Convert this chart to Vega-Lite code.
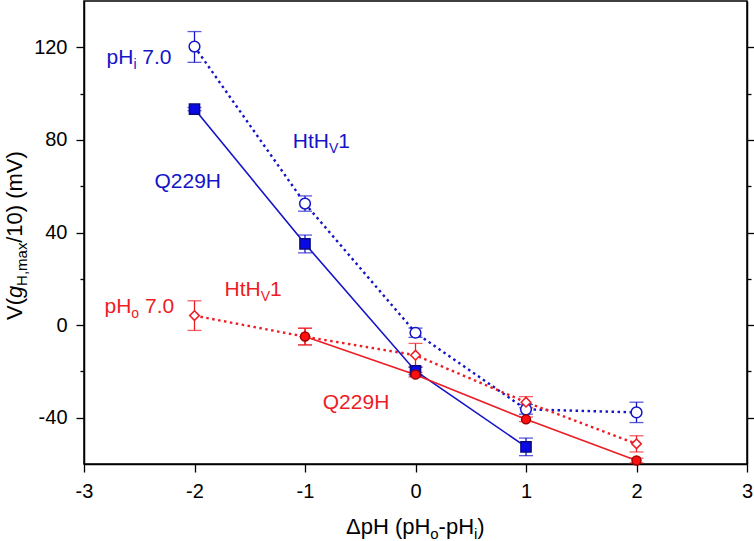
{
  "$schema": "https://vega.github.io/schema/vega-lite/v6.json",
  "width": 663,
  "height": 463,
  "autosize": {"type": "none"},
  "padding": {"left": 84, "top": 1, "right": 7, "bottom": 77},
  "background": "white",
  "config": {
    "view": {"stroke": "black", "strokeWidth": 1.5},
    "font": "Liberation Sans",
    "axis": {"grid": false, "title": null, "domainColor": "black", "domainWidth": 1.5, "tickColor": "black", "tickWidth": 1.3, "labelColor": "black", "labelFont": "Liberation Sans", "labelFontSize": 20}
  },
  "datasets": {
    "pts": [
      {"series": "HtHV1 pHi", "cond": "pHi 7.0", "x": -2, "v": 120.3, "lo": 113.5, "hi": 126.8},
      {"series": "HtHV1 pHi", "cond": "pHi 7.0", "x": -1, "v": 52.5, "lo": 49.2, "hi": 55.8},
      {"series": "HtHV1 pHi", "cond": "pHi 7.0", "x": 0, "v": -3.3, "lo": -5.3, "hi": -1.3},
      {"series": "HtHV1 pHi", "cond": "pHi 7.0", "x": 1, "v": -36.4, "lo": -38.5, "hi": -34.3},
      {"series": "HtHV1 pHi", "cond": "pHi 7.0", "x": 2, "v": -37.7, "lo": -42.1, "hi": -33.3},
      {"series": "Q229H pHi", "cond": "pHi 7.0", "x": -2, "v": 93.3, "lo": 92.6, "hi": 94.0},
      {"series": "Q229H pHi", "cond": "pHi 7.0", "x": -1, "v": 35.1, "lo": 31.2, "hi": 38.9},
      {"series": "Q229H pHi", "cond": "pHi 7.0", "x": 0, "v": -19.8, "lo": -21.4, "hi": -18.2},
      {"series": "Q229H pHi", "cond": "pHi 7.0", "x": 1, "v": -52.6, "lo": -56.4, "hi": -48.8},
      {"series": "HtHV1 pHo", "cond": "pHo 7.0", "x": -2, "v": 4.1, "lo": -2.3, "hi": 10.5},
      {"series": "HtHV1 pHo", "cond": "pHo 7.0", "x": -1, "v": -5.0, "lo": -8.6, "hi": -1.4},
      {"series": "HtHV1 pHo", "cond": "pHo 7.0", "x": 0, "v": -13.0, "lo": -18.1, "hi": -7.9},
      {"series": "HtHV1 pHo", "cond": "pHo 7.0", "x": 1, "v": -33.3, "lo": -35.7, "hi": -30.9},
      {"series": "HtHV1 pHo", "cond": "pHo 7.0", "x": 2, "v": -51.3, "lo": -54.8, "hi": -47.8},
      {"series": "Q229H pHo", "cond": "pHo 7.0", "x": -1, "v": -4.9, "lo": -8.5, "hi": -1.3},
      {"series": "Q229H pHo", "cond": "pHo 7.0", "x": 0, "v": -21.4, "lo": -22.4, "hi": -20.4},
      {"series": "Q229H pHo", "cond": "pHo 7.0", "x": 1, "v": -40.7, "lo": -41.7, "hi": -39.7},
      {"series": "Q229H pHo", "cond": "pHo 7.0", "x": 2, "v": -58.5, "lo": -59.5, "hi": -57.5}
    ],
    "ann": [
      {"t": "pH", "x": -2.796, "y": 112.6, "cond": "pHi 7.0", "role": "main"},
      {"t": "i", "x": -2.553, "y": 112.6, "cond": "pHi 7.0", "role": "sub"},
      {"t": "7.0", "x": -2.472, "y": 112.6, "cond": "pHi 7.0", "role": "main"},
      {"t": "HtH", "x": -1.110, "y": 76.4, "cond": "pHi 7.0", "role": "main"},
      {"t": "V", "x": -0.7827, "y": 76.4, "cond": "pHi 7.0", "role": "sub"},
      {"t": "1", "x": -0.6982, "y": 76.4, "cond": "pHi 7.0", "role": "main"},
      {"t": "Q229H", "x": -2.362, "y": 59.3, "cond": "pHi 7.0", "role": "main"},
      {"t": "HtH", "x": -1.7285, "y": 12.6, "cond": "pHo 7.0", "role": "main"},
      {"t": "V", "x": -1.4012, "y": 12.6, "cond": "pHo 7.0", "role": "sub"},
      {"t": "1", "x": -1.3167, "y": 12.6, "cond": "pHo 7.0", "role": "main"},
      {"t": "pH", "x": -2.8145, "y": 5.2, "cond": "pHo 7.0", "role": "main"},
      {"t": "o", "x": -2.5716, "y": 5.2, "cond": "pHo 7.0", "role": "sub"},
      {"t": "7.0", "x": -2.4484, "y": 5.2, "cond": "pHo 7.0", "role": "main"},
      {"t": "Q229H", "x": -0.839, "y": -36.4, "cond": "pHo 7.0", "role": "main"}
    ],
    "ttl": [
      {"t": "ΔpH (pH", "x": -0.6290, "y": -90.2, "role": "xmain"},
      {"t": "o", "x": 0.1339, "y": -90.2, "role": "xsub"},
      {"t": "-pH", "x": 0.2090, "y": -90.2, "role": "xmain"},
      {"t": "i", "x": 0.5294, "y": -90.2, "role": "xsub"},
      {"t": ")", "x": 0.5593, "y": -90.2, "role": "xmain"},
      {"t": "V(", "x": -3.5656, "y": 2.24, "role": "ymain"},
      {"t": "g", "x": -3.5656, "y": 11.69, "role": "yital"},
      {"t": "H,max", "x": -3.5656, "y": 16.94, "role": "ysub"},
      {"t": "/10) (mV)", "x": -3.5656, "y": 35.55, "role": "ymain"}
    ]
  },
  "layer": [
    {
      "data": {"name": "pts"},
      "transform": [{"filter": {"field": "series", "oneOf": ["HtHV1 pHi", "HtHV1 pHo"]}}],
      "mark": {"type": "line", "strokeDash": [2.5, 3.5], "strokeWidth": 2.4},
      "encoding": {
        "x": {"field": "x", "type": "quantitative", "scale": {"domain": [-3, 3], "nice": false, "zero": false},
          "axis": {"orient": "bottom", "values": [-3, -2, -1, 0, 1, 2, 3], "labelExpr": "'' + datum.value", "tickSize": 8, "labelPadding": 9, "labelFlush": false}},
        "y": {"field": "v", "type": "quantitative", "scale": {"domain": [-60, 140], "nice": false, "zero": false},
          "axis": {"orient": "left", "values": [-40, -20, 0, 20, 40, 60, 80, 100, 120], "labelExpr": "datum.value % 40 === 0 ? '' + datum.value : ''", "tickSize": {"condition": {"test": "datum.value % 40 === 0", "value": 8}, "value": 4}, "labelPadding": 9}},
        "color": {"field": "cond", "type": "nominal", "scale": {"domain": ["pHi 7.0", "pHo 7.0"], "range": ["#1414c8", "#ee1c24"]}, "legend": null},
        "detail": {"field": "series"},
        "order": {"field": "x", "type": "quantitative"}
      }
    },
    {
      "data": {"name": "pts"},
      "transform": [{"filter": {"field": "series", "oneOf": ["Q229H pHi", "Q229H pHo"]}}],
      "mark": {"type": "line", "strokeWidth": 1.6},
      "encoding": {
        "x": {"field": "x", "type": "quantitative",
          "axis": {"orient": "bottom", "values": [-3, -2, -1, 0, 1, 2, 3], "labelExpr": "'' + datum.value", "tickSize": 8, "labelPadding": 9, "labelFlush": false}},
        "y": {"field": "v", "type": "quantitative",
          "axis": {"orient": "right", "values": [-40, -20, 0, 20, 40, 60, 80, 100, 120], "labels": false, "tickSize": {"condition": {"test": "datum.value % 40 === 0", "value": 7}, "value": 4}}},
        "color": {"field": "cond", "type": "nominal", "legend": null},
        "detail": {"field": "series"},
        "order": {"field": "x", "type": "quantitative"}
      }
    },
    {
      "data": {"name": "pts"},
      "mark": {"type": "rule", "strokeWidth": 1.3},
      "encoding": {
        "x": {"field": "x", "type": "quantitative",
          "axis": {"orient": "bottom", "values": [-3, -2, -1, 0, 1, 2, 3], "labelExpr": "'' + datum.value", "tickSize": 8, "labelPadding": 9, "labelFlush": false}},
        "y": {"field": "lo", "type": "quantitative", "axis": null},
        "y2": {"field": "hi"},
        "color": {"field": "cond", "type": "nominal", "legend": null}
      }
    },
    {
      "data": {"name": "pts"},
      "mark": {"type": "tick", "orient": "horizontal", "size": 14, "thickness": 1.3},
      "encoding": {
        "x": {"field": "x", "type": "quantitative",
          "axis": {"orient": "bottom", "values": [-3, -2, -1, 0, 1, 2, 3], "labelExpr": "'' + datum.value", "tickSize": 8, "labelPadding": 9, "labelFlush": false}},
        "y": {"field": "lo", "type": "quantitative", "axis": null},
        "color": {"field": "cond", "type": "nominal", "legend": null}
      }
    },
    {
      "data": {"name": "pts"},
      "mark": {"type": "tick", "orient": "horizontal", "size": 14, "thickness": 1.3},
      "encoding": {
        "x": {"field": "x", "type": "quantitative",
          "axis": {"orient": "bottom", "values": [-3, -2, -1, 0, 1, 2, 3], "labelExpr": "'' + datum.value", "tickSize": 8, "labelPadding": 9, "labelFlush": false}},
        "y": {"field": "hi", "type": "quantitative", "axis": null},
        "color": {"field": "cond", "type": "nominal", "legend": null}
      }
    },
    {
      "data": {"name": "pts"},
      "mark": {"type": "point", "filled": false, "strokeWidth": 1.5, "opacity": 1},
      "encoding": {
        "x": {"field": "x", "type": "quantitative",
          "axis": {"orient": "bottom", "values": [-3, -2, -1, 0, 1, 2, 3], "labelExpr": "'' + datum.value", "tickSize": 8, "labelPadding": 9, "labelFlush": false}},
        "y": {"field": "v", "type": "quantitative", "axis": null},
        "shape": {"field": "series", "type": "nominal", "scale": {"domain": ["HtHV1 pHi", "Q229H pHi", "HtHV1 pHo", "Q229H pHo"], "range": ["circle", "square", "diamond", "circle"]}, "legend": null},
        "fill": {"field": "series", "type": "nominal", "scale": {"domain": ["HtHV1 pHi", "Q229H pHi", "HtHV1 pHo", "Q229H pHo"], "range": ["#ffffff", "#0a0ae6", "#ffffff", "#ff1010"]}, "legend": null},
        "stroke": {"field": "series", "type": "nominal", "scale": {"domain": ["HtHV1 pHi", "Q229H pHi", "HtHV1 pHo", "Q229H pHo"], "range": ["#1414c8", "#0a0a80", "#ee1c24", "#a00000"]}, "legend": null},
        "size": {"field": "series", "type": "nominal", "scale": {"domain": ["HtHV1 pHi", "Q229H pHi", "HtHV1 pHo", "Q229H pHo"], "range": [115, 80, 135, 120]}, "legend": null}
      }
    },
    {
      "data": {"name": "ann"},
      "transform": [{"filter": "datum.role === 'main'"}],
      "mark": {"type": "text", "align": "left", "baseline": "alphabetic", "fontSize": 21, "font": "Liberation Sans"},
      "encoding": {
        "x": {"field": "x", "type": "quantitative",
          "axis": {"orient": "bottom", "values": [-3, -2, -1, 0, 1, 2, 3], "labelExpr": "'' + datum.value", "tickSize": 8, "labelPadding": 9, "labelFlush": false}},
        "y": {"field": "y", "type": "quantitative", "axis": null},
        "text": {"field": "t"},
        "color": {"field": "cond", "type": "nominal", "legend": null}
      }
    },
    {
      "data": {"name": "ann"},
      "transform": [{"filter": "datum.role === 'sub'"}],
      "mark": {"type": "text", "align": "left", "baseline": "alphabetic", "fontSize": 14, "dy": 5, "font": "Liberation Sans"},
      "encoding": {
        "x": {"field": "x", "type": "quantitative",
          "axis": {"orient": "bottom", "values": [-3, -2, -1, 0, 1, 2, 3], "labelExpr": "'' + datum.value", "tickSize": 8, "labelPadding": 9, "labelFlush": false}},
        "y": {"field": "y", "type": "quantitative", "axis": null},
        "text": {"field": "t"},
        "color": {"field": "cond", "type": "nominal", "legend": null}
      }
    },
    {
      "data": {"name": "ttl"},
      "transform": [{"filter": "datum.role === 'xmain'"}],
      "mark": {"type": "text", "align": "left", "baseline": "alphabetic", "fontSize": 22, "fill": "black", "font": "Liberation Sans"},
      "encoding": {
        "x": {"field": "x", "type": "quantitative",
          "axis": {"orient": "bottom", "values": [-3, -2, -1, 0, 1, 2, 3], "labelExpr": "'' + datum.value", "tickSize": 8, "labelPadding": 9, "labelFlush": false}},
        "y": {"field": "y", "type": "quantitative", "axis": null},
        "text": {"field": "t"}
      }
    },
    {
      "data": {"name": "ttl"},
      "transform": [{"filter": "datum.role === 'xsub'"}],
      "mark": {"type": "text", "align": "left", "baseline": "alphabetic", "fontSize": 15, "dy": 5, "fill": "black", "font": "Liberation Sans"},
      "encoding": {
        "x": {"field": "x", "type": "quantitative",
          "axis": {"orient": "bottom", "values": [-3, -2, -1, 0, 1, 2, 3], "labelExpr": "'' + datum.value", "tickSize": 8, "labelPadding": 9, "labelFlush": false}},
        "y": {"field": "y", "type": "quantitative", "axis": null},
        "text": {"field": "t"}
      }
    },
    {
      "data": {"name": "ttl"},
      "transform": [{"filter": "datum.role === 'ymain'"}],
      "mark": {"type": "text", "align": "left", "baseline": "alphabetic", "angle": 270, "fontSize": 22, "fill": "black", "font": "Liberation Sans"},
      "encoding": {
        "x": {"field": "x", "type": "quantitative",
          "axis": {"orient": "bottom", "values": [-3, -2, -1, 0, 1, 2, 3], "labelExpr": "'' + datum.value", "tickSize": 8, "labelPadding": 9, "labelFlush": false}},
        "y": {"field": "y", "type": "quantitative", "axis": null},
        "text": {"field": "t"}
      }
    },
    {
      "data": {"name": "ttl"},
      "transform": [{"filter": "datum.role === 'yital'"}],
      "mark": {"type": "text", "align": "left", "baseline": "alphabetic", "angle": 270, "fontSize": 22, "fontStyle": "italic", "fill": "black", "font": "Liberation Sans"},
      "encoding": {
        "x": {"field": "x", "type": "quantitative",
          "axis": {"orient": "bottom", "values": [-3, -2, -1, 0, 1, 2, 3], "labelExpr": "'' + datum.value", "tickSize": 8, "labelPadding": 9, "labelFlush": false}},
        "y": {"field": "y", "type": "quantitative", "axis": null},
        "text": {"field": "t"}
      }
    },
    {
      "data": {"name": "ttl"},
      "transform": [{"filter": "datum.role === 'ysub'"}],
      "mark": {"type": "text", "align": "left", "baseline": "alphabetic", "angle": 270, "fontSize": 15, "dy": 5, "fill": "black", "font": "Liberation Sans"},
      "encoding": {
        "x": {"field": "x", "type": "quantitative",
          "axis": {"orient": "bottom", "values": [-3, -2, -1, 0, 1, 2, 3], "labelExpr": "'' + datum.value", "tickSize": 8, "labelPadding": 9, "labelFlush": false}},
        "y": {"field": "y", "type": "quantitative", "axis": null},
        "text": {"field": "t"}
      }
    }
  ]
}
